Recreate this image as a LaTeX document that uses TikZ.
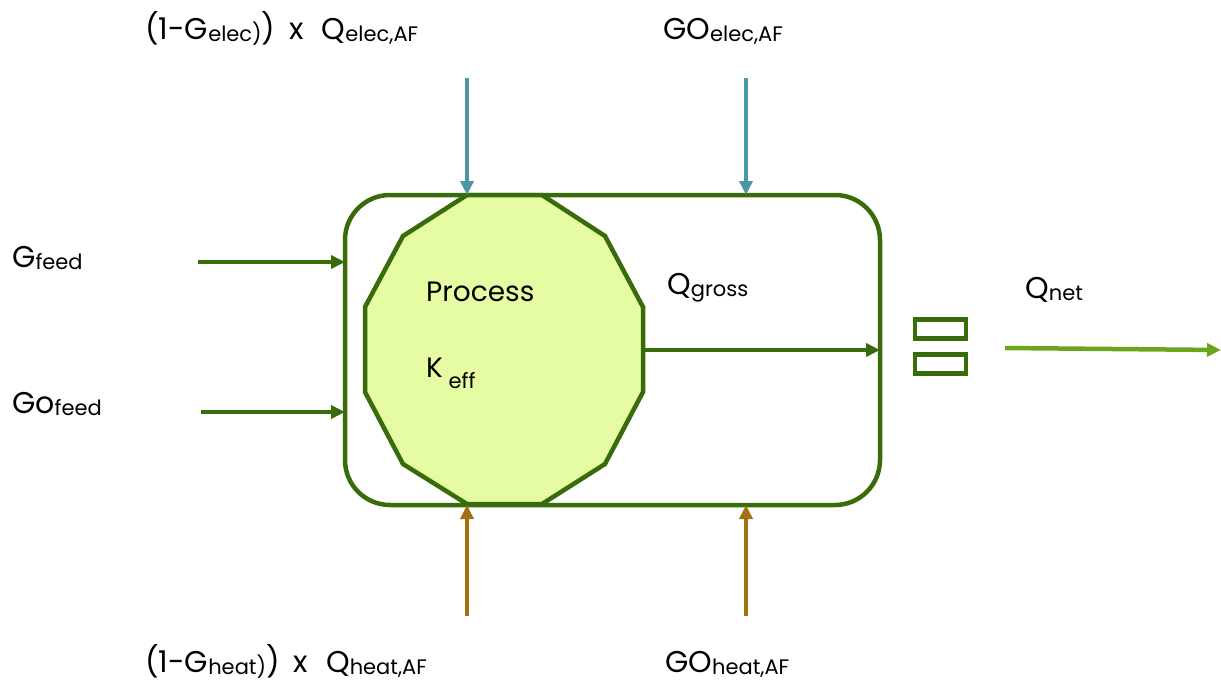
\documentclass[tikz,border=0pt]{standalone}
\usepackage{fontspec}
\setmainfont{Poppins}
\usetikzlibrary{arrows.meta}
\definecolor{dgreen}{HTML}{386B0A}
\definecolor{lfill}{HTML}{E6FCA3}
\definecolor{teal}{HTML}{4B97A6}
\definecolor{brown}{HTML}{A2700F}
\definecolor{lgreen}{HTML}{6BA51C}
\newcommand{\sbs}[1]{\raisebox{-2.5pt}{\fontsize{21}{23}\selectfont #1}}
\tikzset{
  lbl/.style={anchor=base west, inner sep=0pt, font=\fontsize{30}{33}\selectfont},
  plbl/.style={anchor=base west, inner sep=0pt, font=\fontsize{28}{31}\selectfont},
  arr/.style={line width=4.5pt, -{Triangle[length=14pt,width=13pt]}},
  garr/.style={arr, draw=dgreen},
  tarr/.style={arr, draw=teal},
  barr/.style={arr, draw=brown},
  narr/.style={arr, draw=lgreen},
  outbox/.style={draw=dgreen, line width=4.5pt, rounded corners=45pt, minimum width=535pt, minimum height=310pt, inner sep=0pt, outer sep=0pt},
  smallbox/.style={draw=dgreen, line width=4.5pt, minimum width=51pt, minimum height=19pt, inner sep=0pt, outer sep=0pt},
}
\begin{document}
\begin{tikzpicture}[x=1pt,y=-1pt]
\useasboundingbox (0,0) rectangle (1221,681);
% outer process box
\node[outbox] (box) at (612.5,350) {};
% dodecagon
\coordinate (p1) at (467,195);
\coordinate (p2) at (542,195);
\coordinate (p3) at (605,236);
\coordinate (p4) at (643,307);
\coordinate (p5) at (643,392);
\coordinate (p6) at (605,464);
\coordinate (p7) at (542,504);
\coordinate (p8) at (467,504);
\coordinate (p9) at (403,464);
\coordinate (p10) at (365,392);
\coordinate (p11) at (365,307);
\coordinate (p12) at (403,236);
\draw[draw=dgreen, fill=lfill, line width=4.5pt, line join=miter]
  (p1) -- (p2) -- (p3) -- (p4) -- (p5) -- (p6) -- (p7) -- (p8) -- (p9) -- (p10) -- (p11) -- (p12) -- cycle;
\coordinate (proc) at (643,350);
\node[plbl] (process) at (426,301) {Process};
\node[plbl] (keff) at (426,377) {K\raisebox{-11pt}{\fontsize{21}{23}\selectfont\ eff}};
% Q gross arrow
\draw[garr] (proc) -- (proc -| box.east);
\node[lbl] (qgross) at (667,294) {Q\sbs{gross}};
% feed arrows
\coordinate (gf) at (198,262);
\coordinate (gof) at (201,412);
\draw[garr] (gf) -- (gf -| box.west);
\draw[garr] (gof) -- (gof -| box.west);
\node[lbl] (gfeed) at (12,267) {G\sbs{feed}};
\node[lbl] (gofeed) at (12,413) {Go\sbs{feed}};
% electricity arrows
\coordinate (e1) at (467,78);
\coordinate (e2) at (746,78);
\draw[tarr] (e1) -- (e1 |- box.north);
\draw[tarr] (e2) -- (e2 |- box.north);
\node[lbl] (lelec) at (145,39) {(1-G\sbs{elec)})\hspace{14pt}x\hspace{18pt}Q\sbs{elec,AF}};
\node[lbl] (goelec) at (663,39) {GO\sbs{elec,AF}};
% heat arrows
\coordinate (h1) at (467,616);
\coordinate (h2) at (746,616);
\draw[barr] (h1) -- (h1 |- box.south);
\draw[barr] (h2) -- (h2 |- box.south);
\node[lbl] (lheat) at (145,672) {(1-G\sbs{heat)})\hspace{14pt}x\hspace{18pt}Q\sbs{heat,AF}};
\node[lbl] (goheat) at (665,672) {GO\sbs{heat,AF}};
% equals sign boxes
\node[smallbox] (eq1) at (940.5,329) {};
\node[smallbox] (eq2) at (940.5,364) {};
% Q net
\coordinate (n1) at (1005,348);
\coordinate (n2) at (1221,350);
\draw[narr] (n1) -- (n2);
\node[lbl] (qnet) at (1025,298) {Q\sbs{net}};
\end{tikzpicture}
\end{document}
